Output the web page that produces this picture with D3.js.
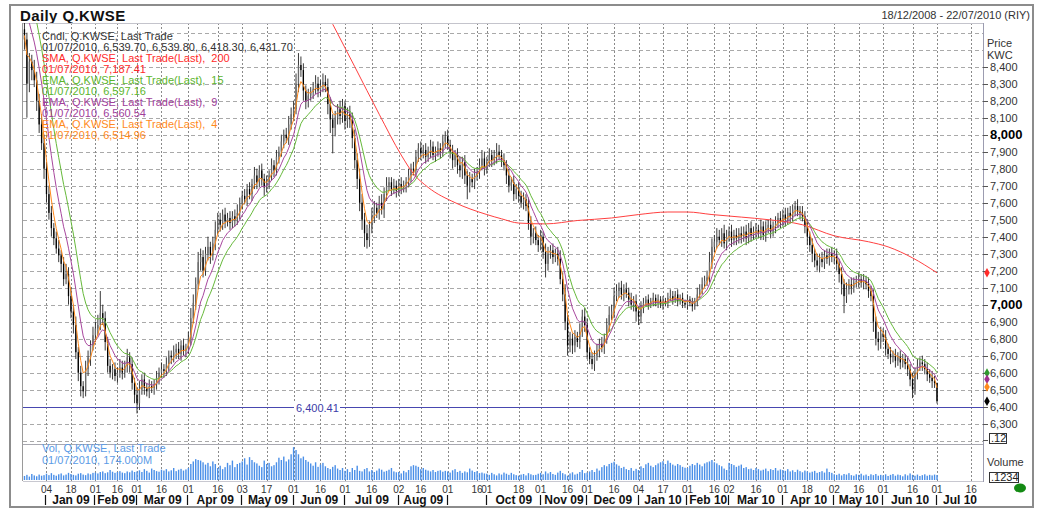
<!DOCTYPE html>
<html>
<head>
<meta charset="utf-8">
<script src="https://cdn.jsdelivr.net/npm/d3@7"></script>
<style>
  body { margin: 0; background: #fff; }
  svg { font-family: "Liberation Sans", Arial, sans-serif; display: block; }
  text { white-space: pre; }
</style>
</head>
<body>
<svg id="chart" width="1042" height="508"></svg>
<script>
// daily closes, one per trading day (index 0 = late Dec 2008, 373 = 01/07/2010)
const closes = [
  8560, 8300, 8430, 8380, 8320, 8200, 8060, 7950, 7800, 7650,
  7540, 7450, 7390, 7330, 7290, 7240, 7150, 7180, 7050, 6960,
  6880, 6720, 6600, 6520, 6490, 6620, 6690, 6760, 6820, 6860,
  6880, 6950, 6920, 6780, 6640, 6600, 6620, 6580, 6600, 6630,
  6600, 6640, 6690, 6650, 6540, 6470, 6420, 6500, 6560, 6510,
  6490, 6520, 6510, 6530, 6570, 6600, 6620, 6610, 6650, 6700,
  6690, 6720, 6740, 6710, 6760, 6730, 6740, 6800, 6920, 7010,
  7120, 7250, 7280, 7200, 7300, 7340, 7290, 7360, 7440, 7500,
  7470, 7530, 7490, 7510, 7480, 7520, 7500, 7540, 7590, 7640,
  7620, 7680, 7650, 7710, 7760, 7720, 7790, 7740, 7690, 7720,
  7760, 7820, 7790, 7870, 7900, 7960, 8000, 7980, 8060, 8120,
  8150, 8300, 8410, 8380, 8260, 8200, 8230, 8250, 8270, 8300,
  8260, 8290, 8310, 8280, 8180, 8090, 8040, 8100, 8150, 8110,
  8170, 8080, 8120, 8090, 7980, 7850, 7740, 7600, 7500, 7420,
  7380, 7450, 7520, 7570, 7540, 7600, 7560, 7650, 7700, 7720,
  7680, 7700, 7670, 7710, 7690, 7700, 7720, 7760, 7800, 7790,
  7870, 7920, 7890, 7910, 7870, 7900, 7930, 7880, 7900, 7920,
  7900, 7960, 7990, 7940, 7900, 7850, 7880, 7820, 7790, 7840,
  7760, 7700, 7740, 7720, 7760, 7780, 7820, 7860, 7800, 7840,
  7880, 7850, 7870, 7900, 7880, 7850, 7820, 7760, 7700, 7720,
  7650, 7680, 7640, 7600, 7620, 7580, 7480, 7400, 7420, 7380,
  7350, 7400, 7310, 7240, 7300, 7320, 7280, 7300, 7270, 7150,
  7060, 6900, 6760, 6800, 6760, 6810, 6780, 6840, 6930, 6880,
  6720, 6680, 6650, 6700, 6730, 6770, 6750, 6800, 6880, 6940,
  6960, 7050, 7080, 7100, 7060, 7090, 7070, 7030, 7000, 7020,
  6960, 6930, 6980, 7010, 7030, 7000, 7020, 7040, 7010, 7030,
  7000, 7020, 7010, 7040, 7050, 7030, 7060, 7020, 7040, 7010,
  7000, 7030, 7010, 6990, 7020, 7060, 7090, 7120, 7140, 7160,
  7250, 7340, 7370, 7400, 7380, 7420, 7360, 7400, 7430, 7380,
  7410, 7390, 7420, 7400, 7430, 7390, 7450, 7410, 7430, 7440,
  7420, 7460, 7410, 7450, 7470, 7430, 7460, 7480, 7510, 7490,
  7530, 7500, 7540, 7520, 7560, 7580, 7550, 7540, 7520, 7460,
  7400, 7350, 7300, 7260, 7230, 7270, 7250, 7290, 7270, 7300,
  7280, 7290, 7240, 7180, 7120, 7050, 7090, 7120, 7100, 7130,
  7140, 7150, 7130, 7140, 7120, 7080, 7050, 6900, 6800, 6780,
  6830, 6810, 6740, 6710, 6690, 6700, 6670, 6690, 6660, 6680,
  6650, 6620, 6560, 6500, 6600, 6640, 6660, 6650, 6620, 6590,
  6570, 6550, 6540, 6431.7
];
const firstOpen = 8620;
// high above the body / low below the body, in index points
const wickUp = [
  60, 40, 50, 40, 60, 50, 40, 60, 50, 40,  50, 40, 30, 40, 50, 30, 40, 60, 40, 50,
  40, 50, 30, 40, 30, 50, 40, 30, 50, 40,  60, 130, 50, 40, 30, 40, 30, 40, 30, 50,
  40, 30, 50, 30, 40, 30, 40, 50, 30, 40,  30, 40, 30, 30, 40, 30, 40, 30, 40, 30,
  30, 40, 30, 40, 30, 40, 30, 40, 60, 50,  40, 60, 50, 40, 40, 60, 30, 40, 50, 40,
  40, 30, 40, 30, 40, 30, 40, 50, 40, 30,  40, 30, 40, 30, 50, 40, 30, 40, 30, 40,
  30, 40, 30, 40, 30, 40, 30, 40, 50, 40,  50, 60, 70, 50, 40, 30, 40, 30, 40, 50,
  40, 30, 50, 40, 50, 40, 30, 40, 30, 50,  40, 30, 40, 50, 40, 50, 40, 60, 50, 40,
  50, 40, 50, 40, 30, 40, 50, 40, 50, 30,  30, 40, 30, 30, 40, 30, 30, 40, 30, 40,
  40, 30, 40, 30, 40, 30, 40, 30, 30, 40,  30, 40, 30, 40, 30, 40, 30, 40, 50, 30,
  40, 30, 40, 30, 40, 30, 40, 50, 40, 30,  40, 30, 40, 50, 40, 30, 40, 30, 40, 30,
  40, 30, 40, 30, 40, 30, 50, 40, 30, 40,  30, 40, 30, 50, 40, 30, 40, 30, 40, 50,
  40, 60, 50, 40, 30, 40, 30, 50, 40, 50,  40, 30, 40, 30, 40, 30, 40, 30, 40, 50,
  40, 50, 40, 30, 40, 30, 40, 30, 40, 30,  40, 30, 40, 30, 20, 30, 20, 30, 20, 30,
  20, 30, 20, 30, 40, 30, 20, 30, 20, 30,  20, 30, 20, 30, 20, 40, 30, 40, 30, 40,
  60, 50, 40, 50, 40, 30, 50, 40, 30, 40,  30, 40, 30, 40, 30, 40, 30, 40, 30, 40,
  30, 40, 30, 40, 30, 40, 30, 40, 30, 40,  30, 40, 30, 40, 30, 30, 40, 30, 40, 30,
  40, 30, 40, 30, 40, 30, 40, 30, 40, 30,  40, 30, 40, 30, 40, 30, 40, 30, 40, 30,
  30, 40, 30, 40, 30, 40, 30, 40, 30, 40,  40, 30, 40, 30, 40, 30, 40, 30, 40, 30,
  30, 40, 30, 40, 30, 40, 30, 40, 30, 40,  30, 40, 30, 0.1
];
const wickDn = [
  60, 200, 50, 60, 40, 60, 50, 40, 60, 50,  40, 50, 40, 30, 40, 50, 40, 30, 50, 40,
  50, 40, 50, 60, 40, 30, 40, 50, 30, 40,  40, 30, 40, 50, 40, 30, 40, 30, 40, 30,
  40, 30, 40, 50, 40, 50, 60, 40, 30, 40,  30, 40, 30, 40, 30, 40, 30, 40, 30, 40,
  40, 30, 40, 30, 40, 30, 40, 30, 40, 30,  40, 30, 50, 40, 30, 40, 50, 30, 40, 30,
  40, 30, 40, 30, 40, 30, 40, 30, 40, 30,  30, 40, 30, 40, 30, 40, 30, 40, 50, 30,
  40, 30, 40, 30, 40, 30, 40, 30, 40, 30,  40, 30, 50, 40, 60, 50, 40, 30, 40, 30,
  40, 30, 40, 30, 60, 80, 150, 50, 40, 50,  40, 50, 40, 50, 60, 50, 60, 50, 60, 80,
  50, 40, 30, 40, 30, 40, 30, 50, 40, 30,  40, 30, 40, 30, 40, 30, 40, 30, 40, 30,
  40, 30, 40, 30, 40, 30, 40, 30, 40, 30,  40, 30, 40, 30, 40, 50, 40, 50, 40, 50,
  50, 80, 40, 30, 40, 30, 40, 30, 40, 30,  30, 40, 30, 40, 30, 40, 30, 50, 40, 30,
  40, 30, 40, 30, 40, 30, 40, 50, 40, 30,  40, 30, 40, 80, 40, 30, 40, 30, 40, 30,
  40, 50, 60, 40, 50, 40, 30, 40, 30, 40,  40, 30, 30, 40, 30, 40, 30, 40, 30, 40,
  30, 40, 30, 40, 30, 40, 30, 40, 30, 40,  60, 50, 40, 30, 20, 30, 20, 30, 20, 30,
  20, 30, 20, 30, 20, 30, 20, 30, 20, 30,  20, 30, 20, 30, 20, 30, 20, 30, 20, 30,
  30, 40, 30, 40, 30, 40, 30, 40, 30, 40,  30, 40, 30, 40, 30, 40, 30, 40, 30, 40,
  30, 40, 30, 40, 30, 40, 30, 40, 30, 40,  30, 40, 30, 40, 30, 40, 30, 40, 30, 40,
  50, 40, 50, 40, 30, 40, 30, 40, 30, 40,  30, 40, 40, 50, 60, 100, 40, 30, 40, 30,
  30, 40, 30, 40, 30, 40, 30, 60, 40, 50,  40, 30, 40, 30, 40, 30, 40, 30, 40, 30,
  30, 40, 40, 50, 30, 40, 30, 40, 30, 40,  30, 40, 30, 13.4
];
// daily volume, millions of shares
const volumes = [
  140, 180, 120, 210, 160, 130, 190, 150, 170,
  220, 170, 240, 180, 150, 200, 230, 160, 190, 250, 210, 180, 160, 220, 240, 190, 170, 230, 200, 250,
  260, 230, 280, 300, 240, 270, 350, 290, 250, 280, 310, 260, 240, 300, 270, 330, 280,
  300, 340, 280, 380, 320, 260, 400, 350, 310, 290, 360, 330, 380, 300, 340, 420, 310, 360, 390, 330, 370,
  420, 560, 650, 730, 700, 680, 620, 540, 600, 480, 650, 560, 420, 500, 380, 450, 600, 520, 680, 450, 560, 600,
  650, 760, 540, 800, 700, 620, 580, 500, 450, 680, 560, 600, 480, 520, 620, 780, 700, 820, 650, 720, 900,
  1150, 1050, 900, 760, 820, 700, 640, 580, 500, 620, 460, 540, 600, 480, 420, 380, 460, 520, 400, 350, 420,
  320, 380, 280, 420, 350, 500, 320, 300, 380, 420, 300, 350, 280, 330, 400, 360, 290, 320, 360, 420, 300, 270,
  280, 230, 320, 270, 350, 480, 520, 500, 460, 380, 420, 360, 330, 300, 350, 280, 320, 340, 290, 320,
  300, 260, 340, 380, 280, 320, 250, 300, 270, 400, 330, 280, 310, 240, 260, 230,
  220, 180, 250, 200, 160, 230, 190, 260, 220, 180, 250, 200, 170, 150, 190, 210, 160, 240, 200, 170, 180, 220,
  250, 200, 300, 230, 280, 210, 180, 260, 320, 240, 200, 150, 230, 270, 190, 220, 280, 350, 240,
  260, 300, 350, 280, 400, 330, 450, 520, 480, 560, 600, 640, 550, 500, 420, 460, 380, 350, 420, 320, 390,
  350, 480, 420, 550, 600, 500, 450, 520, 580, 620, 660, 560, 680, 600, 540, 500, 560, 520, 460, 430,
  420, 500, 560, 520, 600, 540, 480, 580, 620, 650, 700, 620, 580, 520, 480, 400, 350,
  600, 560, 520, 460, 500, 540, 420, 450, 380, 400, 350, 420, 380, 330, 360, 400, 310, 380, 350, 420, 330, 370,
  350, 320, 380, 300, 340, 280, 360, 310, 270, 330, 300, 260, 290, 320, 250, 280, 310, 260, 400, 280, 250,
  200, 180, 220, 160, 210, 190, 240, 170, 150, 200, 180, 220, 160, 190, 140, 200, 170, 210, 150, 180,
  160, 200, 140, 180, 210, 150, 190, 170, 130, 200, 160, 230, 180, 150, 190, 140, 170, 200, 150, 180, 160, 190, 174
];
// SMA 200 (trading-day index, value)
const smaIdx = [126, 135, 145, 154, 159, 165, 176, 189, 195, 202, 213, 226, 240, 251, 263, 271, 281, 293, 304, 318, 331, 345, 353, 363, 373];
const smaVal = [8650, 8400, 8120, 7880, 7770, 7690, 7600, 7530, 7505, 7480, 7475, 7495, 7510, 7530, 7545, 7545, 7530, 7515, 7500, 7470, 7405, 7370, 7340, 7275, 7187.41];
// EMA periods and their level just before the first bar
const emaPeriods = [15, 9, 4];
const emaSeeds = [9050, 8880, 8600];
const emaColors = ["#66b93a", "#a8479e", "#ff8a1c"];
// last values shown as markers on the price axis
const markerVals = [7187.41, 6597.16, 6560.54, 6514.96, 6431.7];
const markerColors = ["#ff2a2a", "#2e9a2e", "#a0308f", "#ff8a1c", "#000"];

const gridVals = d3.range(6200, 8700, 100);
const priceTicks = [6300, 6400, 6500, 6600, 6700, 6800, 6900, 7000, 7100, 7200, 7300, 7400, 7500, 7600, 7700, 7800, 7900, 8000, 8100, 8200, 8300, 8400];
const dayTickIdx = [9, 19, 29, 38, 46, 56, 67, 79, 89, 99, 110, 121, 131, 142, 153, 162, 173, 185, 189, 202, 211, 222, 230, 241, 251, 261, 271, 282, 288, 299, 310, 320, 331, 341, 351, 363, 373, 387];
const dayTickLbl = ["04", "18", "01", "16", "01", "16", "01", "16", "03", "17", "01", "16", "01", "16", "02", "16", "01", "16", "01", "18", "01", "16", "01", "16", "04", "17", "01", "16", "02", "16", "01", "18", "02", "16", "01", "16", "01", "16"];
const monthIdx = [9, 29, 46, 67, 89, 110, 131, 153, 173, 189, 211, 230, 251, 271, 288, 310, 331, 351, 373];
const monthLbl = ["Jan 09", "Feb 09", "Mar 09", "Apr 09", "May 09", "Jun 09", "Jul 09", "Aug 09", "", "Oct 09", "Nov 09", "Dec 09", "Jan 10", "Feb 10", "Mar 10", "Apr 10", "May 10", "Jun 10", "Jul 10"];

const legendLines = [
  ["Cndl, Q.KWSE, Last Trade", "#333"],
  ["01/07/2010, 6,539.70, 6,539.80, 6,418.30, 6,431.70", "#333"],
  ["SMA, Q.KWSE, Last Trade(Last),  200", "#ff2a2a"],
  ["01/07/2010, 7,187.41", "#ff2a2a"],
  ["EMA, Q.KWSE, Last Trade(Last),  15", "#5cb52e"],
  ["01/07/2010, 6,597.16", "#5cb52e"],
  ["EMA, Q.KWSE, Last Trade(Last),  9", "#a0409a"],
  ["01/07/2010, 6,560.54", "#a0409a"],
  ["EMA, Q.KWSE, Last Trade(Last),  4", "#ff8a1c"],
  ["01/07/2010, 6,514.96", "#ff8a1c"],
];

const svg = d3.select("#chart");
const L = 23, R = 983, T = 23, SEP = 444, VB = 481;
const x = d3.scaleLinear().domain([-0.6, 391.8]).range([L, R]);
const y = d3.scaleLinear().domain([6186, 8657]).range([443, T]);
const yv = d3.scaleLinear().domain([0, 1260]).range([480, SEP]);

// frame
svg.append("rect").attr("width", 1042).attr("height", 508).attr("fill", "#fff");
svg.append("rect").attr("x", 10).attr("y", 5).attr("width", 1023).attr("height", 502)
  .attr("fill", "none").attr("stroke", "#8c8c8c").attr("stroke-width", 2);

svg.append("text").attr("x", 20).attr("y", 21).attr("font-size", 15).attr("font-weight", "bold")
  .attr("letter-spacing", 0.4).attr("fill", "#111").text("Daily Q.KWSE");
svg.append("text").attr("x", 1030).attr("y", 19).attr("font-size", 11).attr("text-anchor", "end")
  .attr("fill", "#333").text("18/12/2008 - 22/07/2010 (RIY)");

svg.append("defs").append("clipPath").attr("id", "clip")
  .append("rect").attr("x", L).attr("y", T).attr("width", R - L).attr("height", SEP - T);

// grid
const grid = svg.append("g").attr("shape-rendering", "crispEdges");
grid.selectAll(".hg").data(gridVals).join("line")
  .attr("x1", L).attr("x2", R)
  .attr("y1", (d) => Math.round(y(d)) + 0.5).attr("y2", (d) => Math.round(y(d)) + 0.5)
  .attr("stroke", "#a9a9a9").attr("stroke-dasharray", "4,3");
grid.selectAll(".vg").data(dayTickIdx).join("line")
  .attr("x1", (d) => Math.round(x(d)) + 0.5).attr("x2", (d) => Math.round(x(d)) + 0.5)
  .attr("y1", T).attr("y2", VB)
  .attr("stroke", "#8a8a8a").attr("stroke-dasharray", "2,2");

// borders
grid.append("line").attr("x1", L).attr("x2", R).attr("y1", T + 0.5).attr("y2", T + 0.5).attr("stroke", "#c4c4cc");
grid.append("line").attr("x1", L - 0.5).attr("x2", L - 0.5).attr("y1", T).attr("y2", VB).attr("stroke", "#9a9a9a");
grid.append("line").attr("x1", R + 0.5).attr("x2", R + 0.5).attr("y1", T).attr("y2", VB + 1).attr("stroke", "#9c9cb0");
grid.append("line").attr("x1", L).attr("x2", R).attr("y1", SEP + 0.5).attr("y2", SEP + 0.5).attr("stroke", "#a8a8b0");
grid.append("line").attr("x1", L).attr("x2", R).attr("y1", VB + 0.5).attr("y2", VB + 0.5).attr("stroke", "#c8c8d0");

// 6,400.41 reference line
const refY = Math.round(y(6400.41)) + 0.5;
svg.append("line").attr("x1", L).attr("x2", R).attr("y1", refY).attr("y2", refY)
  .attr("stroke", "#4848b0").attr("shape-rendering", "crispEdges");
svg.append("rect").attr("x", 294).attr("y", refY - 6).attr("width", 46).attr("height", 12).attr("fill", "#fff");
svg.append("text").attr("x", 296).attr("y", refY + 4).attr("font-size", 11).attr("fill", "#3c3ca8").text("6,400.41");

// volume
svg.append("g").selectAll("rect").data(volumes).join("rect")
  .attr("x", (d, i) => x(i) - 0.7).attr("width", 1.4)
  .attr("y", (d) => yv(d)).attr("height", (d) => 480 - yv(d))
  .attr("fill", "#4a8fe8");
svg.append("text").attr("x", 42).attr("y", 452).attr("font-size", 11).attr("fill", "#5b9be6").text("Vol, Q.KWSE, Last Trade");
svg.append("text").attr("x", 42).attr("y", 464).attr("font-size", 11).attr("fill", "#5b9be6").text("01/07/2010, 174.000M");

// candles
const candles = closes.map((c, i) => {
  const o = i === 0 ? firstOpen : closes[i - 1];
  return { i, o, c, h: Math.max(o, c) + wickUp[i], l: Math.min(o, c) - wickDn[i] };
});
const cg = svg.append("g").attr("clip-path", "url(#clip)");
cg.selectAll("line").data(candles).join("line")
  .attr("x1", (d) => x(d.i)).attr("x2", (d) => x(d.i))
  .attr("y1", (d) => y(d.h)).attr("y2", (d) => y(d.l))
  .attr("stroke", "#222").attr("stroke-width", 0.9);
cg.selectAll("rect").data(candles).join("rect")
  .attr("x", (d) => x(d.i) - 0.65).attr("width", 1.3)
  .attr("y", (d) => y(Math.max(d.o, d.c)))
  .attr("height", (d) => Math.max(1, Math.abs(y(d.o) - y(d.c))))
  .attr("fill", (d) => (d.c >= d.o ? "#6a6a6a" : "#000"));

// moving averages
const lg = svg.append("g").attr("clip-path", "url(#clip)").attr("fill", "none");
const smaLine = d3.line().x((d) => x(d[0])).y((d) => y(d[1])).curve(d3.curveMonotoneX);
lg.append("path").datum(smaIdx.map((d, k) => [d, smaVal[k]]))
  .attr("d", smaLine).attr("stroke", "#ff4040").attr("stroke-width", 1);

emaPeriods.forEach((p, k) => {
  const a = 2 / (p + 1);
  let prev = emaSeeds[k];
  const vals = closes.map((c) => (prev = a * c + (1 - a) * prev));
  lg.append("path").datum(vals)
    .attr("d", d3.line().x((d, i) => x(i)).y((d) => y(d)))
    .attr("stroke", emaColors[k]).attr("stroke-width", 1);
});

// legend
svg.append("g").selectAll("text").data(legendLines).join("text")
  .attr("x", 42).attr("y", (d, i) => 40 + i * 11)
  .attr("font-size", 11).attr("fill", (d) => d[1]).text((d) => d[0]);

// right price axis
const ax = svg.append("g");
ax.selectAll("line").data(priceTicks).join("line")
  .attr("x1", R).attr("x2", R + 5)
  .attr("y1", (d) => Math.round(y(d)) + 0.5).attr("y2", (d) => Math.round(y(d)) + 0.5)
  .attr("stroke", "#555");
ax.selectAll("text").data(priceTicks).join("text")
  .attr("x", 990).attr("y", (d) => y(d) + 4)
  .attr("font-size", (d) => (d % 1000 === 0 ? 13 : 11))
  .attr("font-weight", (d) => (d % 1000 === 0 ? "bold" : "normal"))
  .attr("fill", (d) => (d % 1000 === 0 ? "#000" : "#333"))
  .text((d) => d3.format(",")(d));
ax.append("text").attr("x", 987).attr("y", 47).attr("font-size", 11).attr("fill", "#333").text("Price");
ax.append("text").attr("x", 987).attr("y", 59).attr("font-size", 11).attr("fill", "#333").text("KWC");

ax.selectAll("path").data(markerVals).join("path")
  .attr("transform", (d) => `translate(987,${y(d)})`)
  .attr("d", d3.symbol(d3.symbolDiamond, 26))
  .attr("fill", (d, i) => markerColors[i]);

ax.append("line").attr("x1", R).attr("x2", R + 5).attr("y1", 440.5).attr("y2", 440.5).attr("stroke", "#555");
ax.append("rect").attr("x", 989.5).attr("y", 433.5).attr("width", 17).attr("height", 10)
  .attr("fill", "#fff").attr("stroke", "#333");
ax.append("text").attr("x", 991).attr("y", 442).attr("font-size", 11).attr("fill", "#222").text(".12");
ax.append("text").attr("x", 987).attr("y", 466).attr("font-size", 11).attr("fill", "#333").text("Volume");
ax.append("rect").attr("x", 989.5).attr("y", 472.5).attr("width", 29).attr("height", 10)
  .attr("fill", "#fff").attr("stroke", "#333");
ax.append("text").attr("x", 991).attr("y", 481).attr("font-size", 11).attr("fill", "#222").text(".1234");
ax.append("ellipse").attr("cx", 1020).attr("cy", 488).attr("rx", 6).attr("ry", 4.5).attr("fill", "#138a13");

// x axis labels
const xa = svg.append("g");
xa.selectAll("text").data(dayTickIdx).join("text")
  .attr("x", (d) => x(d)).attr("y", 493).attr("text-anchor", "middle")
  .attr("font-size", 10).attr("fill", "#333").text((d, i) => dayTickLbl[i]);
xa.selectAll("line").data(monthIdx).join("line")
  .attr("x1", (d) => Math.round(x(d)) - 0.5).attr("x2", (d) => Math.round(x(d)) - 0.5)
  .attr("y1", 495).attr("y2", 505).attr("stroke", "#111").attr("stroke-width", 1.2);
xa.selectAll(".ml").data(monthIdx).join("text")
  .attr("x", (d, i) => (x(d) + Math.min(R, x(i + 1 < monthIdx.length ? monthIdx[i + 1] : 391.8))) / 2)
  .attr("y", 504).attr("text-anchor", "middle")
  .attr("font-size", 12).attr("font-weight", "bold").attr("fill", "#111")
  .text((d, i) => monthLbl[i]);
</script>
</body>
</html>
